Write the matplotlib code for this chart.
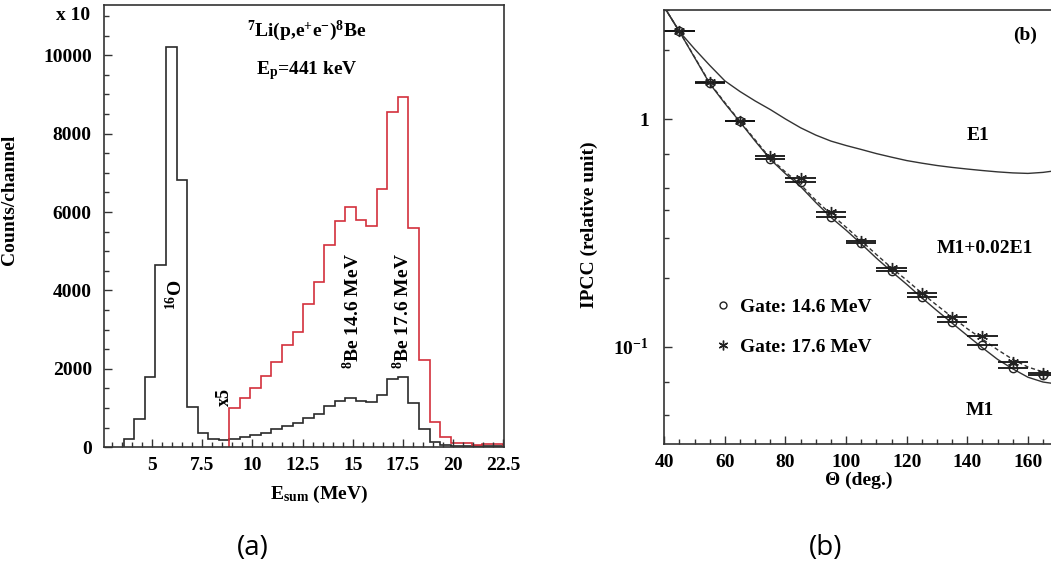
import numpy as np
import matplotlib
matplotlib.use("Agg")
import matplotlib.pyplot as plt
from matplotlib.ticker import FixedLocator, MultipleLocator, FuncFormatter
from matplotlib.lines import Line2D

plt.rcParams['font.family'] = ['Liberation Serif', 'DejaVu Serif']
plt.rcParams['font.weight'] = 'bold'
plt.rcParams['axes.labelweight'] = 'bold'
plt.rcParams['mathtext.fontset'] = 'custom'
plt.rcParams['mathtext.rm'] = 'Liberation Serif:bold'
plt.rcParams['mathtext.it'] = 'Liberation Serif:bold'
plt.rcParams['mathtext.bf'] = 'Liberation Serif:bold'

# ---- (a) e+e- sum energy spectrum ----
bin_start = 3.6
bin_width = 0.525
counts = [205, 725, 1800, 4650, 10200, 6810, 1020, 355, 210, 180,
          204, 255, 315, 374, 460, 540, 630, 750, 860, 1055,
          1185, 1250, 1190, 1160, 1335, 1730, 1800, 1125, 460, 125,
          55, 40, 35, 30, 30, 30]
# high-energy part, scaled x5
red_first_bin = 10
counts_x5 = [1000, 1250, 1510, 1830, 2170, 2600, 2950, 3660, 4220, 5160,
             5770, 6130, 5800, 5650, 6600, 8550, 8940, 5590, 2230, 652,
             250, 110, 100, 70, 85, 90]
energy_ticks = [5, 7.5, 10, 12.5, 15, 17.5, 20, 22.5]
count_ticks = [0, 2000, 4000, 6000, 8000, 10000]

# ---- (b) IPCC angular correlation ----
theta = [45, 55, 65, 75, 85, 95, 105, 115, 125, 135, 145, 155, 165]
gate_146 = [2.44, 1.44, 0.98, 0.665, 0.531, 0.370, 0.285, 0.216, 0.166, 0.128, 0.102, 0.081, 0.075]
gate_176 = [2.44, 1.45, 0.985, 0.688, 0.549, 0.389, 0.292, 0.221, 0.172, 0.135, 0.112, 0.086, 0.077]
theta_err = 5
theta_ticks = [40, 60, 80, 100, 120, 140, 160]

theta_curve = [40, 45, 50, 55, 60, 65, 70, 75, 80, 85, 90, 95, 100, 105, 110,
               115, 120, 125, 130, 135, 140, 145, 150, 155, 160, 165, 170]
ipcc_m1 = [3.1, 2.42, 1.86, 1.43, 1.17, 0.97, 0.80, 0.665, 0.575, 0.505, 0.43, 0.37, 0.325,
           0.283, 0.245, 0.214, 0.188, 0.164, 0.144, 0.127, 0.112, 0.099, 0.088, 0.080,
           0.0735, 0.0700, 0.0685]
ipcc_mix = [3.1, 2.42, 1.87, 1.44, 1.18, 0.975, 0.81, 0.672, 0.585, 0.515, 0.44, 0.382, 0.335,
            0.292, 0.254, 0.222, 0.196, 0.172, 0.152, 0.135, 0.120, 0.108, 0.097, 0.088,
            0.0815, 0.0775, 0.076]
ipcc_e1 = [3.1, 2.42, 2.03, 1.72, 1.47, 1.32, 1.20, 1.10, 1.0, 0.915, 0.85, 0.80, 0.765,
           0.735, 0.705, 0.68, 0.657, 0.64, 0.625, 0.613, 0.603, 0.594, 0.586, 0.58,
           0.577, 0.583, 0.595]

W, H = 1051, 568
fig = plt.figure(figsize=(W / 100, H / 100), dpi=100)

def px_axes(x0, y0, x1, y1):
    return fig.add_axes([x0 / W, 1 - y1 / H, (x1 - x0) / W, (y1 - y0) / H])

frame = '#333333'

# left panel
ax = px_axes(104.3, 5, 504, 447.3)
edges = bin_start + bin_width * np.arange(len(counts) + 1)
ax.stairs(counts, edges, baseline=0, color='#2a2a2a', lw=1.2)
ax.stairs(counts_x5, edges[red_first_bin:], baseline=0, color='#d3303c', lw=1.2)
ax.set_xlim(2.63, 22.53)
ax.set_ylim(0, 11280)
ax.xaxis.set_major_locator(FixedLocator(energy_ticks))
ax.xaxis.set_minor_locator(MultipleLocator(0.5))
ax.xaxis.set_major_formatter(FuncFormatter(lambda v, p: '%g' % v))
ax.yaxis.set_major_locator(FixedLocator(count_ticks))
ax.yaxis.set_minor_locator(MultipleLocator(500))
ax.tick_params(which='both', direction='in', labelsize=14, colors=frame, labelcolor='black')
ax.tick_params(which='major', length=6, width=1.0)
ax.tick_params(which='minor', length=3.5, width=1.0)
ax.tick_params(axis='y', pad=9)
ax.tick_params(axis='x', pad=7)
for s in ax.spines.values():
    s.set_color(frame)
    s.set_linewidth(1.2)
ax.set_ylabel('Counts/channel', fontsize=14)
ax.yaxis.set_label_coords(-0.215, 0.56)
ax.set_xlabel(r'E$_{\mathrm{sum}}$ (MeV)', fontsize=14)
ax.xaxis.set_label_coords(0.537, -0.082)
ax.text(-0.036, 0.977, 'x 10', transform=ax.transAxes, ha='right', va='center', fontsize=14)
ax.text(12.69, 10630, r'$^{7}$Li(p,e$^{+}$e$^{-}$)$^{8}$Be', ha='center', va='center', fontsize=14)
ax.text(12.74, 9600, r'E$_{\mathrm{p}}$=441 keV', ha='center', va='center', fontsize=14)
ax.text(6.16, 3880, r'$^{16}$O', rotation=90, ha='center', va='center', fontsize=14)
ax.text(8.62, 1280, 'x5', rotation=90, ha='center', va='center', fontsize=13)
ax.text(15.0, 2000, r'$^{8}$Be 14.6 MeV', rotation=90, ha='center', va='bottom', fontsize=14)
ax.text(17.5, 2000, r'$^{8}$Be 17.6 MeV', rotation=90, ha='center', va='bottom', fontsize=14)

# right panel (extends past the figure edge)
bx = px_axes(664.3, 9.7, 664.3 + 140 * 3.03, 444.3)
bx.set_yscale('log')
bx.set_xlim(40, 180)
bx.set_ylim(0.0373, 3.02)
bx.plot(theta_curve, ipcc_e1, color='#333333', lw=1.0)
bx.plot(theta_curve, ipcc_m1, color='#333333', lw=1.0)
bx.plot(theta_curve, ipcc_mix, color='#333333', lw=1.0, ls=(0, (3, 2)))
star = (6, 2, 0)
bx.errorbar(theta, gate_176, xerr=theta_err, fmt='none', ecolor='#111111', elinewidth=1.3, capsize=0)
bx.errorbar(theta, gate_146, xerr=theta_err, fmt='none', ecolor='#111111', elinewidth=1.3, capsize=0)
bx.plot(theta, gate_146, ls='none', marker='o', ms=6, mfc='none', mec='#222222', mew=1.0)
bx.plot(theta, gate_176, ls='none', marker=star, ms=8, mec='#222222', mew=1.0)
bx.xaxis.set_major_locator(FixedLocator(theta_ticks))
bx.xaxis.set_minor_locator(MultipleLocator(5))
bx.yaxis.set_major_locator(FixedLocator([0.1, 1]))
bx.yaxis.set_minor_locator(FixedLocator([0.05, 0.07, 0.2, 0.3, 0.4, 0.5, 0.7, 2, 3]))
bx.yaxis.set_minor_formatter(FuncFormatter(lambda v, p: ''))
bx.yaxis.set_major_formatter(FuncFormatter(lambda v, p: '1' if abs(v - 1) < 1e-9 else r'10$^{\mathbf{-1}}$'))
bx.tick_params(which='both', direction='in', labelsize=14, colors=frame, labelcolor='black')
bx.tick_params(which='major', length=6, width=1.0)
bx.tick_params(which='minor', length=3.5, width=1.0)
bx.tick_params(axis='y', pad=11)
bx.tick_params(axis='x', pad=7)
for s in bx.spines.values():
    s.set_color(frame)
    s.set_linewidth(1.2)
bx.set_ylabel('IPCC (relative unit)', fontsize=14)
bx.yaxis.set_label_coords(-0.156, 0.505)
bx.set_xlabel('Θ (deg.)', fontsize=14)
bx.xaxis.set_label_coords(0.459, -0.062)
bx.text(159, 2.34, '(b)', ha='center', va='center', fontsize=14)
bx.text(143.4, 0.85, 'E1', ha='center', va='center', fontsize=14)
bx.text(145.8, 0.271, 'M1+0.02E1', ha='center', va='center', fontsize=14)
bx.text(144.2, 0.0527, 'M1', ha='center', va='center', fontsize=14)

handles = [Line2D([], [], ls='none', marker='o', ms=5, mfc='none', mec='#222222', mew=1.0),
           Line2D([], [], ls='none', marker=star, ms=7, mec='#222222', mew=1.0)]
bx.legend(handles, ['Gate: 14.6 MeV', 'Gate: 17.6 MeV'], loc='center left',
          bbox_to_anchor=(0.097, 0.27), frameon=False, fontsize=14,
          handlelength=0.8, handletextpad=0.5, labelspacing=1.15, borderpad=0)

fig.text(253 / W, 1 - 548 / H, '(a)', family='Open Sans', weight='normal', fontsize=20,
         ha='center', va='center')
fig.text(826 / W, 1 - 548 / H, '(b)', family='Open Sans', weight='normal', fontsize=20,
         ha='center', va='center')

fig.savefig('out.png', dpi=100)
